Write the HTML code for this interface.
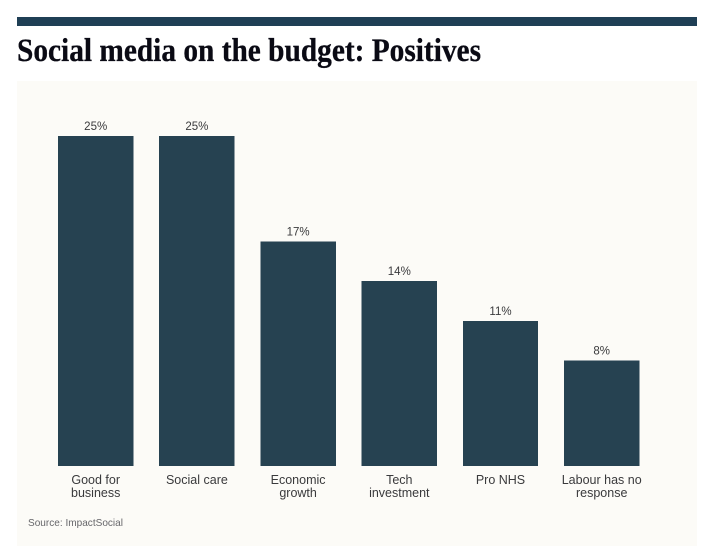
<!DOCTYPE html>
<html lang="en">
<head>
<meta charset="utf-8">
<title>Social media on the budget: Positives</title>
<style>
html,body{margin:0;padding:0;background:#fff;}
svg{display:block;}
text{font-family:"Liberation Sans",sans-serif;}
</style>
</head>
<body>
<svg id="chart" width="707" height="547" viewBox="0 0 707 547" xmlns="http://www.w3.org/2000/svg">
  <rect x="17" y="17" width="680" height="9" fill="#1f3f55"/>
  <text x="17" y="61" font-size="33" font-weight="700" fill="#0a0a14" stroke="#0a0a14" stroke-width="0.3" textLength="464" lengthAdjust="spacingAndGlyphs" style="font-family:'Liberation Serif',serif">Social media on the budget: Positives</text>
  <rect x="17" y="81" width="680" height="465" fill="#fcfbf7"/>
  <g id="marks"></g>
  <text x="28" y="526" font-size="10.5" fill="#66666a" textLength="95" lengthAdjust="spacingAndGlyphs">Source: ImpactSocial</text>
</svg>
<script>
var categories = [["Good for","business"],["Social care"],["Economic","growth"],["Tech","investment"],["Pro NHS"],["Labour has no","response"]];
var values = [25,25,17,14,11,8];
var valueLabels = ["25%","25%","17%","14%","11%","8%"];

var NS = "http://www.w3.org/2000/svg";
var baseY = 466, pxPerUnit = 13.2, firstX = 58, step = 101.2, barW = 75.4;
function xPos(i){ return firstX + i * step; }
function yPos(v){ return baseY - v * pxPerUnit; }
var g = document.getElementById("marks");
function addText(str, x, y, size){
  var t = document.createElementNS(NS, "text");
  t.setAttribute("x", x);
  t.setAttribute("y", y);
  t.setAttribute("text-anchor", "middle");
  t.setAttribute("font-size", size);
  t.setAttribute("fill", "#3a3a3c");
  t.textContent = str;
  g.appendChild(t);
  return t;
}
values.forEach(function(v, i){
  var r = document.createElementNS(NS, "rect");
  r.setAttribute("x", xPos(i));
  r.setAttribute("y", yPos(v));
  r.setAttribute("width", barW);
  r.setAttribute("height", baseY - yPos(v));
  r.setAttribute("fill", "#264251");
  r.setAttribute("shape-rendering", "crispEdges");
  
  
  g.appendChild(r);
  var cx = xPos(i) + barW / 2;
  var vl = addText(valueLabels[i], cx, yPos(v) - 6, 11.5);
  
  
  categories[i].forEach(function(line, j){
    var c = addText(line, cx, 484 + j * 13, 12.5);
    
    
  });
});
</script>
</body>
</html>
